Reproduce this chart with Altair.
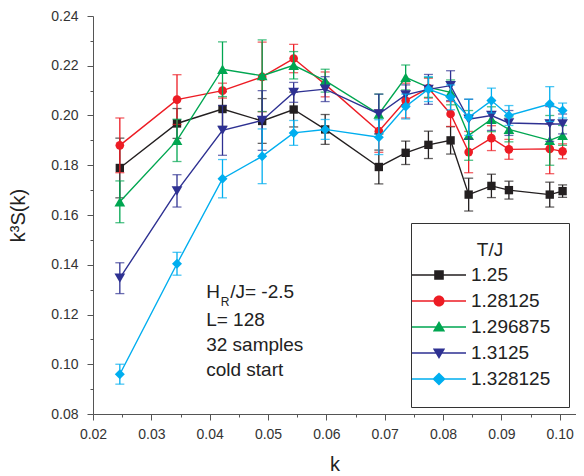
import altair as alt
import pandas as pd

FONT = "Liberation Sans"

# ---- data ----
k = [0.0246, 0.0344, 0.0422, 0.0490, 0.0544, 0.0598, 0.0690, 0.0736,
     0.0775, 0.0813, 0.0844, 0.0883, 0.0913, 0.0983, 0.1005]

series = ["1.25", "1.28125", "1.296875", "1.3125", "1.328125"]

s_125 = [0.1789, 0.1968, 0.2026, 0.1978, 0.2024, 0.1944, 0.1793, 0.1850,
         0.1882, 0.1900, 0.1682, 0.1717, 0.1700, 0.1682, 0.1696]
e_125 = [0.012, 0.006, 0.007, 0.009, 0.007, 0.006, 0.0068, 0.0047,
         0.0055, 0.0055, 0.0066, 0.0047, 0.0036, 0.005, 0.0025]

s_128 = [0.1880, 0.2064, 0.2100, 0.2155, 0.2229, 0.2125, 0.1937, 0.2060,
         0.2110, 0.2006, 0.1853, 0.1909, 0.1864, 0.1866, 0.1856]
e_128 = [0.011, 0.010, 0.003, 0.014, 0.0057, 0.005, 0.0085, 0.007,
         0.004, 0.005, 0.0083, 0.005, 0.004, 0.010, 0.003]

s_1297 = [0.1653, 0.1900, 0.2186, 0.2160, 0.2202, 0.2140, 0.2006, 0.2153,
          0.2113, 0.2093, 0.1920, 0.1985, 0.1944, 0.1900, 0.1920]
e_1297 = [0.0084, 0.0085, 0.011, 0.0144, 0.0055, 0.0046, 0.008, 0.005,
          0.004, 0.005, 0.010, 0.005, 0.005, 0.010, 0.004]

s_1313 = [0.1346, 0.1697, 0.1940, 0.1980, 0.2093, 0.2106, 0.2006, 0.2083,
          0.2105, 0.2120, 0.1985, 0.2000, 0.1970, 0.1966, 0.1966]
e_1313 = [0.0062, 0.0065, 0.010, 0.012, 0.004, 0.005, 0.008, 0.004,
          0.006, 0.006, 0.008, 0.006, 0.005, 0.007, 0.004]

s_1328 = [0.0960, 0.1404, 0.1746, 0.1836, 0.1930, 0.1944, 0.1913, 0.2036,
          0.2106, 0.2073, 0.1993, 0.2060, 0.2000, 0.2046, 0.2020]
e_1328 = [0.004, 0.0046, 0.0077, 0.011, 0.005, 0.004, 0.007, 0.005,
          0.005, 0.005, 0.0073, 0.005, 0.004, 0.007, 0.003]

values = [s_125, s_128, s_1297, s_1313, s_1328]
errors = [e_125, e_128, e_1297, e_1313, e_1328]

colors = ["#231f20", "#ed1c24", "#00a651", "#2e3192", "#00aeef"]
shapes = ["square", "circle", "triangle-up", "triangle-down", "diamond"]
sizes = [70, 75, 115, 115, 100]

# legend symbols: a line through the marker
LINE = "M-2.7,-0.075H2.7V0.075H-2.7Z"
legend_paths = [
    LINE + "M-0.48,-0.48H0.48V0.48H-0.48Z",
    LINE + "M-0.55,0A0.55,0.55,0,1,1,0.55,0A0.55,0.55,0,1,1,-0.55,0Z",
    LINE + "M0,-0.6L0.62,0.45L-0.62,0.45Z",
    LINE + "M-0.62,-0.45L0.62,-0.45L0,0.6Z",
    LINE + "M0,-0.66L0.66,0L0,0.66L-0.66,0Z",
]

ann_lines = ["L= 128", "32 samples", "cold start"]
ann_y = [0.1153, 0.1053, 0.0953]
ann_x = 0.0394
hr_y = 0.1265

x_ticks = [round(0.02 + 0.005 * i, 3) for i in range(17)]
y_ticks = [round(0.08 + 0.01 * i, 2) for i in range(17)]

rows = []
for s, vals, errs in zip(series, values, errors):
    for kk, v, e in zip(k, vals, errs):
        rows.append({"T": s, "k": kk, "v": v, "lo": v - e, "hi": v + e})
df = pd.DataFrame(rows)

xscale = alt.Scale(domain=[0.02, 0.1028], nice=False, zero=False)
yscale = alt.Scale(domain=[0.08, 0.24], nice=False, zero=False)

xmaj = "abs(datum.value*100 - round(datum.value*100)) < 0.01"
ymaj = "abs(datum.value*50 - round(datum.value*50)) < 0.01"

x_axis = alt.Axis(values=x_ticks, title="k", labelOverlap=False, labelFlush=False,
                  labelExpr=f"{xmaj} ? format(datum.value, '.2f') : ''",
                  tickSize={"condition": {"test": xmaj, "value": 6}, "value": 3},
                  labelPadding=7, titlePadding=13, grid=False)
y_axis = alt.Axis(values=y_ticks, title="k³S(k)", labelOverlap=False, labelFlush=False,
                  labelExpr=f"{ymaj} ? format(datum.value, '.2f') : ''",
                  tickSize={"condition": {"test": ymaj, "value": 6}, "value": 3},
                  labelPadding=9, titlePadding=22, grid=False)

X = alt.X("k:Q", scale=xscale, axis=x_axis)
Y = alt.Y("v:Q", scale=yscale, axis=y_axis)

layers = []
for s, c, shp, sz in zip(series, colors, shapes, sizes):
    base = alt.Chart(df).transform_filter(alt.datum.T == s)
    layers.append(base.mark_line(color=c, strokeWidth=1.4).encode(x=X, y=Y))
    layers.append(base.mark_rule(color=c, strokeWidth=1.3).encode(
        x=X, y=alt.Y("lo:Q", scale=yscale, axis=y_axis), y2="hi:Q"))
    layers.append(base.mark_tick(color=c, orient="horizontal", size=9, thickness=1.3).encode(
        x=X, y=alt.Y("lo:Q", scale=yscale, axis=y_axis)))
    layers.append(base.mark_tick(color=c, orient="horizontal", size=9, thickness=1.3).encode(
        x=X, y=alt.Y("hi:Q", scale=yscale, axis=y_axis)))
    layers.append(base.mark_point(color=c, filled=True, opacity=1, shape=shp, size=sz).encode(x=X, y=Y))

leg = alt.Legend(title="T/J", orient="none", legendX=318, legendY=207, padding=18,
                 strokeColor="#333", titleAnchor="middle",
                 titleFont=FONT, titleFontSize=19, titleFontWeight="normal", titleColor="#222",
                 titlePadding=5, labelFont=FONT, labelFontSize=19, labelColor="#222",
                 labelOffset=22, symbolSize=400, symbolOpacity=1, symbolStrokeWidth=0,
                 rowPadding=6, labelLimit=0)
legend_layer = alt.Chart(df).mark_point(filled=True, opacity=0).encode(
    x=X, y=Y,
    color=alt.Color("T:N", scale=alt.Scale(domain=series, range=colors), legend=leg),
    shape=alt.Shape("T:N", scale=alt.Scale(domain=series, range=legend_paths), legend=leg),
)
layers.append(legend_layer)

ann_df = pd.DataFrame({"tx": [ann_x] * len(ann_lines), "ty": ann_y, "t": ann_lines})
hr_df = pd.DataFrame({"tx": [ann_x], "ty": [hr_y], "a": ["H"], "b": ["R"], "c": ["/J= -2.5"]})
TX = alt.X("tx:Q", scale=xscale, axis=x_axis)
TY = alt.Y("ty:Q", scale=yscale, axis=y_axis)
txt = dict(align="left", baseline="alphabetic", font=FONT, color="#222")
layers.append(alt.Chart(ann_df).mark_text(fontSize=19, **txt).encode(x=TX, y=TY, text="t:N"))
layers.append(alt.Chart(hr_df).mark_text(fontSize=19, **txt).encode(x=TX, y=TY, text="a:N"))
layers.append(alt.Chart(hr_df).mark_text(fontSize=12, dx=14.5, dy=8, **txt).encode(x=TX, y=TY, text="b:N"))
layers.append(alt.Chart(hr_df).mark_text(fontSize=19, dx=24, **txt).encode(x=TX, y=TY, text="c:N"))

chart = alt.layer(*layers).properties(
    width=483, height=398,
    background="white",
    autosize=alt.AutoSizeParams(type="none"),
    padding={"left": 85, "top": 8, "right": 0, "bottom": 62},
).configure_view(stroke=None).configure_axis(
    labelFont=FONT, labelFontSize=14, labelColor="#333",
    titleFont=FONT, titleFontSize=20, titleFontWeight="normal", titleColor="#222",
    domainColor="#555", tickColor="#555", domainWidth=1, tickWidth=1,
)

chart.save("out.html", embed_options={"renderer": "svg", "actions": False})
